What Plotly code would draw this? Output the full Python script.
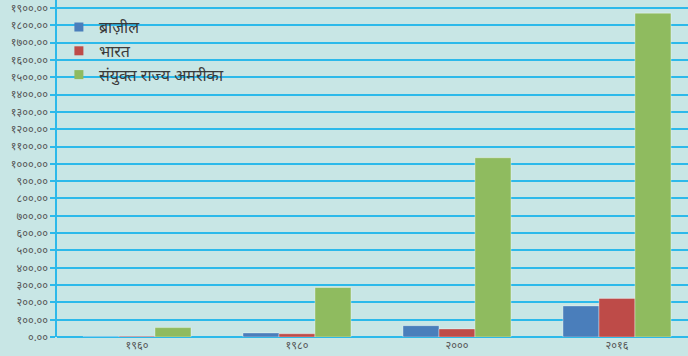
import plotly.graph_objects as go

# GDP (tens of billions of US$), grouped by year
years = ["१९६०", "१९८०", "२०००", "२०१६"]
brazil = [1.5, 23.5, 65.5, 179.6]
india = [3.7, 18.6, 46.8, 223.0]
usa = [54.3, 285.7, 1035.0, 1870.0]

series_names = ["ब्राज़ील", "भारत", "संयुक्त राज्य अमरीका"]
series_colors = ["#4a7ebb", "#be4b48", "#8fbb5f"]

y_tick_vals = list(range(0, 2000, 100))
y_tick_text = [
    "०.००", "१००.००", "२००.००", "३००.००", "४००.००", "५००.००", "६००.००",
    "७००.००", "८००.००", "९००.००", "१०००.००", "११००.००", "१२००.००",
    "१३००.००", "१४००.००", "१५००.००", "१६००.००", "१७००.००", "१८००.००",
    "१९००.००",
]

font_family = "Noto Sans, DejaVu Sans, sans-serif"
grid_color = "#2cb9ea"
bg_color = "#c8e6e5"

fig = go.Figure()

for name, vals, col in zip(series_names, [brazil, india, usa], series_colors):
    fig.add_trace(go.Bar(
        x=years, y=vals, name=name, showlegend=False,
        marker=dict(color=col, line=dict(color="rgba(255,255,255,0.35)", width=1)),
    ))
    # legend entry with a small square swatch
    fig.add_trace(go.Scatter(
        x=[None], y=[None], mode="markers", name=name,
        marker=dict(symbol="square", size=9, color=col),
    ))

fig.update_layout(
    width=688, height=356,
    margin=dict(l=57, r=0, t=0, b=19),
    paper_bgcolor=bg_color, plot_bgcolor=bg_color,
    barmode="group", bargap=0.325, bargroupgap=0,
    font=dict(family=font_family, color="#555555"),
    legend=dict(
        x=0.003, y=0.97, xanchor="left", yanchor="top",
        bgcolor="rgba(0,0,0,0)", itemwidth=30,
        font=dict(size=16, color="#3a3a3a", family=font_family),
        tracegroupgap=0,
    ),
)

fig.update_xaxes(
    type="category", range=[-0.5, 3.444],
    showgrid=False, zeroline=False, showline=False,
    ticks="", tickfont=dict(size=11, color="#555555"),
)
fig.update_yaxes(
    range=[0, 1946],
    tickvals=y_tick_vals, ticktext=y_tick_text,
    ticklabeloverflow="allow",
    showgrid=True, gridcolor=grid_color, gridwidth=1.5,
    zeroline=True, zerolinecolor=grid_color, zerolinewidth=1.5,
    showline=True, linecolor=grid_color, linewidth=1.5,
    ticks="outside", ticklen=5, tickcolor=grid_color, tickwidth=1.5,
    tickfont=dict(size=11, color="#555555"),
)

fig.write_html("out.html")
